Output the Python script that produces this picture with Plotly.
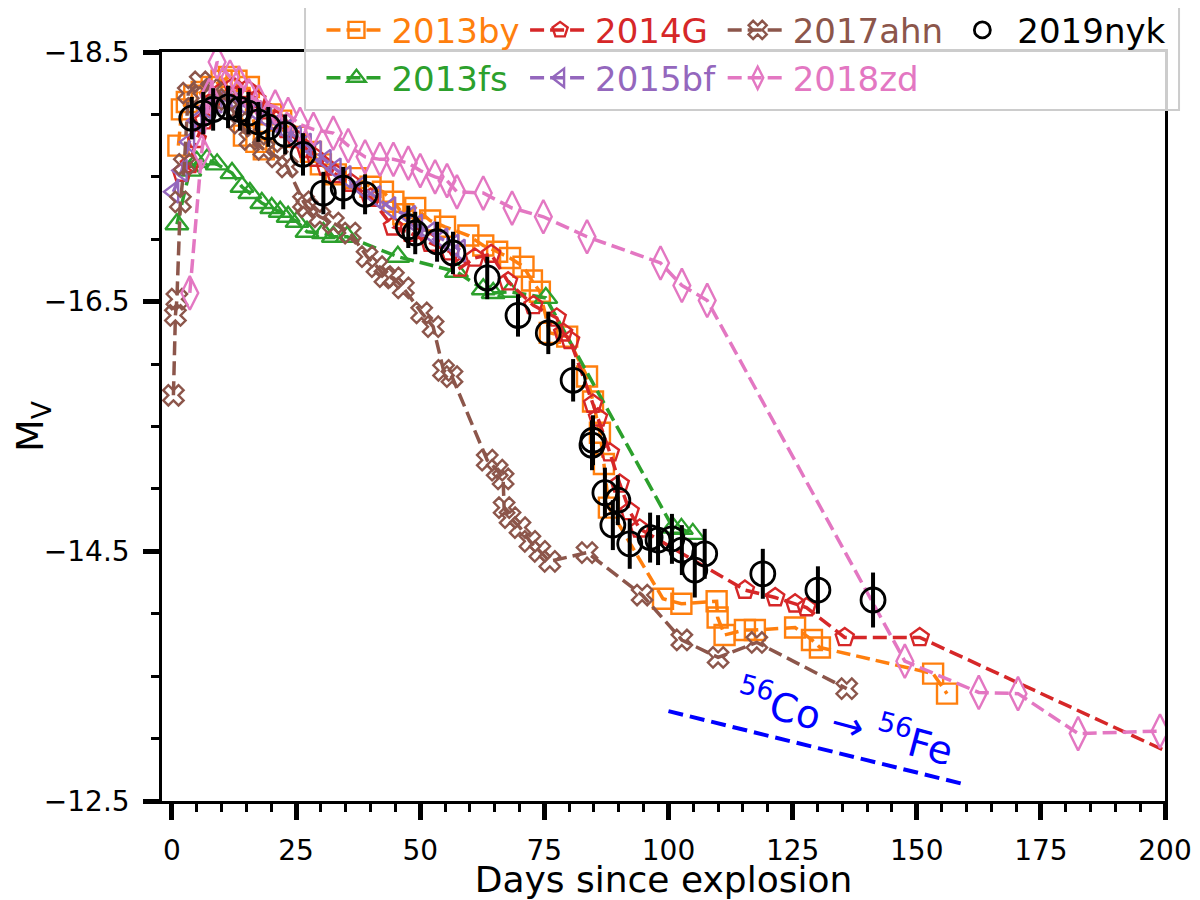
import plotly.graph_objects as go

# ---------------- data ----------------
by_days = [1.3, 2.0, 3.0, 4.5, 6.0, 8.0, 10.0, 11.5, 13.0, 14.5, 15.5, 17.0, 18.5, 20.0, 22.0, 25.0, 28.0, 30.0,
           33.0, 37.0, 40.0, 42.5, 44.6, 46.6, 49.0, 52.0, 55.0, 59.7, 62.7, 65.5, 68.1, 70.8, 72.5, 74.1, 76.1,
           79.6, 83.6, 84.8, 86.2, 87.0, 88.0, 98.9, 102.6, 109.7, 109.9, 111.3, 115.4, 117.4, 125.5, 128.9,
           130.5, 153.3, 156.1]
by_mag = [-17.75, -18.04, -18.10, -18.15, -18.18, -18.22, -18.27, -18.30, -18.27, -17.83, -18.22, -17.78, -17.72,
          -18.00, -17.95, -17.82, -17.70, -17.60, -17.52, -17.49, -17.42, -17.38, -17.30, -17.20, -17.25, -17.15,
          -17.10, -17.03, -16.95, -16.90, -16.85, -16.78, -16.67, -16.58, -16.25, -16.22, -15.90, -15.70, -15.45,
          -15.20, -14.85, -14.12, -14.08, -14.10, -13.97, -13.83, -13.87, -13.87, -13.89, -13.79, -13.73, -13.52,
          -13.36]

fs_days = [1.0, 3.6, 5.0, 7.1, 9.1, 12.1, 14.1, 15.7, 18.1, 20.1, 21.8, 23.4, 25.2, 27.2, 30.5, 32.5, 35.3,
           45.5, 57.3, 62.7, 64.7, 68.0, 75.3, 100.9, 102.6, 104.9]
fs_mag = [-17.12, -17.55, -17.62, -17.64, -17.60, -17.53, -17.42, -17.37, -17.29, -17.25, -17.22, -17.18, -17.14,
          -17.06, -17.05, -17.02, -17.02, -16.86, -16.74, -16.60, -16.57, -16.58, -16.53, -14.69, -14.68, -14.64]

g_days = [2.0, 3.6, 5.0, 6.5, 8.0, 10.0, 12.4, 15.1, 17.0, 19.0, 21.0, 23.0, 25.0, 27.0, 29.0, 31.0, 33.0, 36.0,
          40.0, 44.5, 48.0, 52.0, 56.0, 58.0, 61.0, 64.3, 67.7, 72.8, 77.5, 78.8, 80.2, 84.8, 85.8, 88.2, 90.2,
          92.2, 94.2, 115.4, 121.5, 125.5, 127.8, 135.5, 150.6, 210.0]
g_mag = [-17.53, -17.60, -17.80, -17.95, -18.10, -18.18, -18.22, -18.20, -18.12, -18.03, -17.95, -17.88, -17.80,
         -17.72, -17.65, -17.58, -17.52, -17.45, -17.33, -17.10, -17.05, -16.97, -16.90, -16.77, -16.85, -16.88,
         -16.66, -16.47, -16.37, -16.25, -16.19, -15.68, -15.57, -15.29, -15.04, -14.82, -14.68, -14.19, -14.13,
         -14.08, -14.05, -13.81, -13.81, -12.72]

bf_days = [0.3, 2.0, 3.5, 5.0, 7.0, 9.0, 11.0, 13.0, 15.0, 17.0, 19.0, 21.0, 23.0, 25.0, 27.0, 29.0, 31.0, 33.0,
           35.0, 38.0, 41.0, 44.0, 48.0, 49.4, 52.0, 54.5, 56.7, 58.0]
bf_mag = [-17.38, -17.55, -17.78, -17.95, -18.05, -18.10, -18.12, -18.10, -18.06, -18.02, -17.97, -17.92, -17.87,
          -17.82, -17.76, -17.70, -17.63, -17.56, -17.50, -17.42, -17.34, -17.25, -17.18, -17.11, -17.05, -17.00,
          -16.95, -16.91]

ahn_days = [0.3, 0.7, 1.0, 1.7, 2.5, 3.3, 5.7, 8.0, 11.0, 13.7, 15.7, 18.5, 21.2, 23.2, 26.5, 27.2, 29.8, 32.5,
            35.9, 39.3, 41.3, 42.9, 44.6, 46.6, 50.3, 52.6, 54.7, 56.4, 63.5, 65.5, 66.7, 66.9, 68.1, 70.1, 72.1,
            74.1, 76.1, 83.6, 94.7, 102.7, 110.0, 117.8, 135.9]
ahn_mag = [-15.75, -16.39, -16.52, -17.30, -17.60, -18.17, -18.26, -18.20, -18.12, -17.93, -17.80, -17.72, -17.66,
           -17.58, -17.30, -17.26, -17.18, -17.13, -17.05, -16.86, -16.78, -16.70, -16.69, -16.61, -16.41, -16.30,
           -15.95, -15.90, -15.23, -15.15, -15.08, -14.85, -14.77, -14.69, -14.58, -14.50, -14.42, -14.49, -14.15,
           -13.79, -13.65, -13.77, -13.40]

zd_days = [3.6, 6.0, 7.5, 9.1, 11.7, 13.5, 15.5, 17.5, 20.8, 23.4, 25.8, 28.5, 32.5, 35.5, 38.9, 41.9, 44.6, 47.6,
           50.0, 53.0, 55.4, 57.4, 62.7, 68.5, 74.8, 83.6, 98.4, 102.7, 107.8, 147.6, 162.5, 170.4, 182.5, 199.0]
zd_mag = [-16.57, -17.70, -18.15, -18.42, -18.30, -18.25, -18.15, -18.10, -18.06, -18.00, -17.92, -17.88, -17.85,
          -17.75, -17.66, -17.64, -17.64, -17.61, -17.55, -17.50, -17.47, -17.38, -17.37, -17.25, -17.18, -17.02,
          -16.81, -16.63, -16.51, -13.62, -13.37, -13.36, -13.04, -13.06]

nyk_days = [4.0, 6.3, 8.3, 11.3, 13.7, 15.4, 17.4, 19.4, 22.8, 26.4, 30.5, 34.5, 38.9, 47.6, 49.0, 53.4, 56.6,
            63.5, 69.7, 75.8, 80.8, 84.6, 84.8, 87.2, 88.8, 89.8, 92.2, 96.3, 97.9, 100.7, 102.7, 105.3, 107.3,
            119.0, 130.1, 141.2]
nyk_mag = [-17.97, -18.01, -18.04, -18.06, -18.04, -18.01, -17.94, -17.90, -17.84, -17.68, -17.37, -17.41, -17.36,
           -17.10, -17.05, -16.98, -16.89, -16.69, -16.39, -16.25, -15.87, -15.35, -15.39, -14.97, -14.71, -14.91,
           -14.56, -14.61, -14.59, -14.60, -14.51, -14.35, -14.48, -14.32, -14.19, -14.11]
nyk_err = [0.17, 0.17, 0.17, 0.17, 0.17, 0.17, 0.16, 0.16, 0.16, 0.17, 0.17, 0.17, 0.16, 0.17, 0.17, 0.16, 0.17,
           0.17, 0.17, 0.17, 0.17, 0.20, 0.20, 0.20, 0.20, 0.20, 0.20, 0.20, 0.20, 0.20, 0.20, 0.22, 0.20, 0.20,
           0.19, 0.22]

co_days = [100.0, 160.0]
co_mag = [-13.22, -12.63]

x_ticks = [0, 25, 50, 75, 100, 125, 150, 175, 200]
y_ticks = [-18.5, -16.5, -14.5, -12.5]

# ---------------- styling ----------------
FONT = "DejaVu Sans"
series = [
    ("2013by", by_days, by_mag, "#ff7f0e", "square-open", 20),
    ("2013fs", fs_days, fs_mag, "#2ca02c", "triangle-up-open", 20),
    ("2014G", g_days, g_mag, "#d62728", "pentagon-open", 19),
    ("2015bf", bf_days, bf_mag, "#9467bd", "triangle-left-open", 19),
    ("2017ahn", ahn_days, ahn_mag, "#8c564b", "x-open", 18),
    ("2018zd", zd_days, zd_mag, "#e377c2", "diamond-tall-open", 24),
]

# legend placement (paper coords): column x, row y
col_x = [0.159, 0.362, 0.559, 0.783]
row_y = [1.029, 0.965]
legend_pos = {
    "2013by": (0, 0), "2013fs": (0, 1), "2014G": (1, 0), "2015bf": (1, 1),
    "2017ahn": (2, 0), "2018zd": (2, 1), "2019nyk": (3, 0),
}
LEG_SIZE = 34

fig = go.Figure()
legend_layouts = {}
for i, (name, xd, yd, col, sym, sz) in enumerate(series):
    lkey = "legend" if i == 0 else f"legend{i+1}"
    fig.add_trace(go.Scatter(
        x=xd, y=yd, name=name, mode="lines+markers",
        line=dict(color=col, width=3.5, dash="14px,6px"),
        marker=dict(symbol=sym, size=sz, color=col, line=dict(color=col, width=2.4)),
        legend=lkey,
    ))
    cx, ry = legend_pos[name]
    legend_layouts[lkey] = dict(
        x=col_x[cx], y=row_y[ry], xanchor="left", yanchor="middle",
        bgcolor="rgba(0,0,0,0)", borderwidth=0, itemwidth=60,
        font=dict(family=FONT, size=LEG_SIZE, color=col),
    )

fig.add_trace(go.Scatter(
    x=nyk_days, y=nyk_mag, name="2019nyk", mode="markers",
    marker=dict(symbol="circle-open", size=24, color="black", line=dict(color="black", width=2.8)),
    error_y=dict(type="data", array=nyk_err, color="black", thickness=4, width=0),
    legend="legend7",
))
cx, ry = legend_pos["2019nyk"]
legend_layouts["legend7"] = dict(
    x=col_x[cx], y=row_y[ry], xanchor="left", yanchor="middle",
    bgcolor="rgba(0,0,0,0)", borderwidth=0, itemwidth=60,
    font=dict(family=FONT, size=LEG_SIZE, color="black"),
)

fig.add_trace(go.Scatter(
    x=co_days, y=co_mag, mode="lines", showlegend=False, hoverinfo="skip",
    line=dict(color="blue", width=4, dash="15px,7px"),
))

fig.add_annotation(
    x=135.5, y=-13.14, xref="x", yref="y", showarrow=False,
    text="<sup>56</sup>Co → <sup>56</sup>Fe", textangle=15,
    font=dict(family=FONT, size=39, color="blue"),
)

# legend frame
fig.add_shape(
    type="rect", xref="paper", yref="paper", x0=0.1426, x1=1.014, y0=0.9225, y1=1.0668,
    line=dict(color="#cccccc", width=2), fillcolor="rgba(255,255,255,0.8)", layer="above",
)

axis_common = dict(
    showline=True, linecolor="black", linewidth=2.5, mirror=True,
    ticks="outside", ticklen=16, tickwidth=4.5, tickcolor="black",
    showgrid=False, zeroline=False, automargin=False,
    tickfont=dict(family=FONT, size=28, color="black"),
)

# the page body adds an 8px offset, so the figure is 8px smaller and margins shifted
fig.update_layout(
    width=1192, height=892,
    margin=dict(l=154, r=35, t=44, b=99, autoexpand=False),
    paper_bgcolor="white", plot_bgcolor="white",
    font=dict(family=FONT, color="black"),
    xaxis=dict(
        range=[-2, 200], tickmode="array", tickvals=x_ticks,
        minor=dict(dtick=5, tick0=0, ticklen=8, tickwidth=2.5, tickcolor="black", ticks="outside"),
        title=dict(text="Days since explosion", font=dict(family=FONT, size=36), standoff=10),
        ticklabelstandoff=7,
        **axis_common,
    ),
    yaxis=dict(
        range=[-12.5, -18.5], tickmode="array", tickvals=y_ticks,
        ticktext=["\u221218.5", "\u221216.5", "\u221214.5", "\u221212.5"],
        minor=dict(dtick=0.5, tick0=-18.5, ticklen=8, tickwidth=2.5, tickcolor="black", ticks="outside"),
        title=dict(text="M<sub>V</sub>", font=dict(family=FONT, size=38), standoff=24),
        ticklabelstandoff=8,
        **axis_common,
    ),
    **legend_layouts,
)

fig.write_html("out.html")
